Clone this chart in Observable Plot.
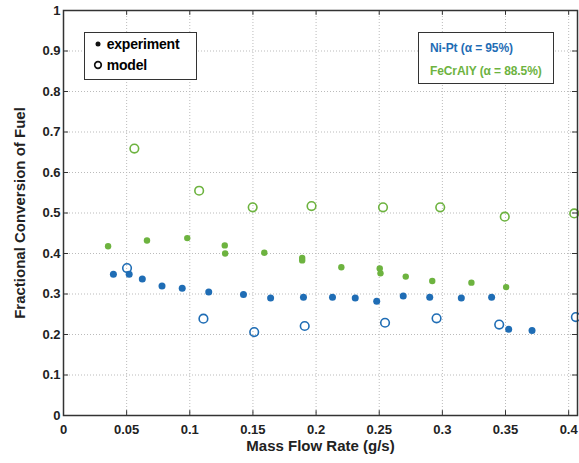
<!DOCTYPE html>
<html>
<head>
<meta charset="utf-8">
<script src="https://cdn.jsdelivr.net/npm/d3@7"></script>
<script src="https://cdn.jsdelivr.net/npm/@observablehq/plot@0.6"></script>
<style>
  html, body { margin: 0; padding: 0; background: #fff; }
  #wrap { position: relative; width: 579px; height: 463px; overflow: hidden; font-family: "Liberation Sans", Arial, sans-serif; }
  .legend { position: absolute; background: #fff; border: 1.5px solid #333; font-weight: bold; box-sizing: border-box; }
  .legend div { white-space: nowrap; line-height: 16px; }
</style>
</head>
<body>
<div id="wrap"></div>
<script>
// Ni-Pt experiment (filled)
const niExpX = [0.0395, 0.052, 0.0624, 0.078, 0.094, 0.115, 0.1425, 0.164, 0.19, 0.213, 0.231, 0.248, 0.269, 0.29, 0.315, 0.339, 0.3525, 0.371];
const niExpY = [0.349, 0.349, 0.337, 0.320, 0.314, 0.305, 0.299, 0.290, 0.292, 0.292, 0.290, 0.282, 0.295, 0.292, 0.290, 0.292, 0.213, 0.210];
// Ni-Pt model (open)
const niModX = [0.0503, 0.1108, 0.151, 0.191, 0.2546, 0.2954, 0.345, 0.4057];
const niModY = [0.364, 0.239, 0.206, 0.221, 0.229, 0.240, 0.2245, 0.243];
// FeCrAlY experiment (filled)
const feExpX = [0.0353, 0.0661, 0.098, 0.1277, 0.128, 0.159, 0.189, 0.189, 0.22, 0.2504, 0.251, 0.271, 0.292, 0.323, 0.3505];
const feExpY = [0.418, 0.432, 0.438, 0.420, 0.400, 0.402, 0.389, 0.383, 0.366, 0.363, 0.351, 0.343, 0.332, 0.328, 0.317];
// FeCrAlY model (open)
const feModX = [0.0561, 0.1074, 0.1498, 0.1964, 0.253, 0.2983, 0.3494, 0.4044];
const feModY = [0.659, 0.555, 0.514, 0.517, 0.514, 0.514, 0.491, 0.499];

const xTicks = [0, 0.05, 0.1, 0.15, 0.2, 0.25, 0.3, 0.35, 0.4];
const yTicks = [0, 0.1, 0.2, 0.3, 0.4, 0.5, 0.6, 0.7, 0.8, 0.9, 1];
const xMax = 0.407;

const blue = "#1f6db5";
const green = "#6db33f";

const pts = (xs, ys) => xs.map((x, i) => ({x, y: ys[i]}));
const fmt = d => d === 0 ? "0" : d === 1 ? "1" : String(d);

const chart = Plot.plot({
  width: 579,
  height: 463,
  marginLeft: 63,
  marginRight: 2,
  marginTop: 10,
  marginBottom: 48,
  style: {fontFamily: "Liberation Sans, Arial, sans-serif", fontSize: "13px", fontWeight: "bold", background: "#fff", color: "#222"},
  x: {domain: [0, xMax]},
  y: {domain: [0, 1]},
  marks: [
    Plot.ruleX(xTicks.filter(d => d > 0), {stroke: "#bbb", strokeDasharray: "1,2", strokeWidth: 1}),
    Plot.ruleY(yTicks.filter(d => d > 0 && d < 1), {stroke: "#bbb", strokeDasharray: "1,2", strokeWidth: 1}),
    // inward ticks
    Plot.ruleX(xTicks, {y1: 0, y2: 0.012, stroke: "#333", strokeWidth: 1}),
    Plot.ruleX(xTicks, {y1: 0.988, y2: 1, stroke: "#333", strokeWidth: 1}),
    Plot.ruleY(yTicks, {x1: 0, x2: 0.004, stroke: "#333", strokeWidth: 1}),
    Plot.ruleY(yTicks, {x1: xMax - 0.004, x2: xMax, stroke: "#333", strokeWidth: 1}),
    Plot.axisX({ticks: xTicks, tickSize: 0, tickPadding: 9, tickFormat: fmt, label: null, fontSize: 13}),
    Plot.axisY({ticks: yTicks, tickSize: 0, tickPadding: 3, tickFormat: fmt, label: null, fontSize: 13}),
    Plot.text(["Mass Flow Rate (g/s)"], {frameAnchor: "bottom", dy: 35, fontSize: 15, fontWeight: "bold", fill: "#222"}),
    Plot.text(["Fractional Conversion of Fuel"], {frameAnchor: "left", textAnchor: "middle", dx: -43, rotate: -90, fontSize: 15, fontWeight: "bold", fill: "#222"}),
    Plot.dot(pts(feModX, feModY), {x: "x", y: "y", r: 4.3, stroke: green, strokeWidth: 1.6, fill: "none"}),
    Plot.dot(pts(niModX, niModY), {x: "x", y: "y", r: 4.3, stroke: blue, strokeWidth: 1.6, fill: "none"}),
    Plot.dot(pts(feExpX, feExpY), {x: "x", y: "y", r: 3.2, fill: green}),
    Plot.dot(pts(niExpX, niExpY), {x: "x", y: "y", r: 3.5, fill: blue}),
    Plot.frame({stroke: "#333", strokeWidth: 1.5})
  ]
});
chart.style.position = "absolute";
chart.style.left = "0px";
chart.style.top = "0px";
document.getElementById("wrap").appendChild(chart);

// legends
const wrap = document.getElementById("wrap");
const leg1 = document.createElement("div");
leg1.className = "legend";
Object.assign(leg1.style, {left: "84px", top: "32px", width: "113px", height: "48px", fontSize: "14px", letterSpacing: "-0.2px"});
leg1.innerHTML =
  '<div style="position:absolute;left:8px;top:3px"><svg width="10" height="10" style="vertical-align:0px"><circle cx="5" cy="5" r="2.5" fill="#111"/></svg>&nbsp;experiment</div>' +
  '<div style="position:absolute;left:8px;top:24px"><svg width="10" height="10" style="vertical-align:0px"><circle cx="5" cy="5" r="3.3" fill="none" stroke="#111" stroke-width="1.7"/></svg>&nbsp;model</div>';
wrap.appendChild(leg1);

const leg2 = document.createElement("div");
leg2.className = "legend";
Object.assign(leg2.style, {left: "418px", top: "32px", width: "136px", height: "52px", fontSize: "12px", letterSpacing: "-0.1px"});
leg2.innerHTML =
  '<div style="position:absolute;left:11px;top:7px;color:' + blue + '">Ni-Pt (α = 95%)</div>' +
  '<div style="position:absolute;left:11px;top:30px;color:' + green + '">FeCrAlY (α = 88.5%)</div>';
wrap.appendChild(leg2);
</script>
</body>
</html>
